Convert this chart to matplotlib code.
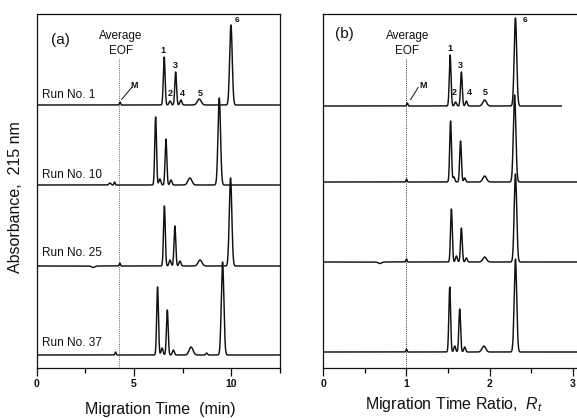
import numpy as np
from matplotlib import pyplot as plt

plt.rcParams['font.family'] = ['Liberation Sans', 'DejaVu Sans']
plt.rcParams['mathtext.fontset'] = 'custom'
plt.rcParams['mathtext.it'] = 'Liberation Sans:italic'
plt.rcParams['mathtext.rm'] = 'Liberation Sans'

run_names = ['Run No. 1', 'Run No. 10', 'Run No. 25', 'Run No. 37']
peak_names = ['M', '1', '2', '3', '4', '5', '6']

# panel (a): migration time (min); baseline level and peak heights in pixel-like units
a_base = [263, 183, 102, 13]
a_pos = [[4.28, 6.55, 6.85, 7.14, 7.41, 8.35, 9.98],
         [4.00, 6.11, 6.33, 6.64, 6.90, 7.87, 9.38],
         [4.27, 6.56, 6.85, 7.10, 7.36, 8.39, 9.96],
         [4.05, 6.21, 6.44, 6.71, 7.02, 7.93, 9.55]]
a_height = [[3, 48, 4, 33, 5, 6, 80],
            [3, 68, 6, 46, 5, 7, 87],
            [3, 60, 6, 40, 5, 6, 88],
            [3, 68, 7, 45, 5, 8, 93]]
a_sigma = [0.03, 0.045, 0.05, 0.045, 0.05, 0.10, 0.065]
a_extra = [[], [(3.76, 2, 0.05)], [(2.9, -1.5, 0.08)], [(8.73, 2, 0.04)]]
a_end = [12.5, 12.5, 12.5, 12.5]
a_eof = 4.22

# panel (b): migration time ratio
b_base = [262, 186, 106, 16]
b_pos = [[1.01, 1.525, 1.59, 1.66, 1.72, 1.94, 2.31],
         [1.00, 1.53, 1.57, 1.65, 1.70, 1.94, 2.30],
         [1.00, 1.54, 1.60, 1.66, 1.72, 1.94, 2.31],
         [1.00, 1.52, 1.58, 1.64, 1.70, 1.93, 2.31]]
b_height = [[3, 51, 4, 34, 5, 6, 88],
            [3, 61, 5, 41, 4, 6, 87],
            [3, 53, 6, 34, 4, 5, 88],
            [3, 65, 6, 43, 5, 6, 93]]
b_sigma = [0.007, 0.0105, 0.011, 0.0105, 0.011, 0.022, 0.015]
b_extra = [[], [], [(0.68, -1.5, 0.02)], []]
b_end = [2.86, 3.05, 3.05, 3.05]
b_eof = 1.0

# peak labels of the top run: (text, x, baseline y)
a_labels = [('1', 6.50, 315), ('2', 6.85, 272), ('3', 7.10, 300),
            ('4', 7.50, 272), ('5', 8.40, 272)]
b_labels = [('1', 1.52, 317), ('2', 1.58, 273), ('3', 1.65, 300),
            ('4', 1.75, 273), ('5', 1.95, 273)]

ink = '#111111'


def trace(x, base, pos, height, sigma, extra):
    y = np.full_like(x, float(base))
    for p, h, s in zip(pos, height, sigma):
        y += h * np.exp(-0.5 * ((x - p) / s) ** 2)
    for p, h, s in extra:
        y += h * np.exp(-0.5 * ((x - p) / s) ** 2)
    return y


def build_panel(ax, xmax, base, pos, height, sigma, extra, end, eof, labels,
                tag, m_xy, six_xy, avg_x, major, minor, right_spine, eof_color):
    ax.set_xlim(0, xmax)
    ax.set_ylim(0, 354)
    ax.axvline(eof, ymin=0, ymax=310 / 354, color=eof_color, lw=0.7, ls=(0, (1, 1.2)))
    for i in range(len(base)):
        x = np.linspace(0, end[i], 5000)
        ax.plot(x, trace(x, base[i], pos[i], height[i], sigma, extra[i]), color=ink, lw=1.05)
    for txt, lx, ly in labels:
        ax.text(lx, ly, txt, ha='center', va='baseline', fontsize=6.5, fontweight='bold', color=ink)
    ax.text(six_xy[0], six_xy[1], '6', ha='center', va='baseline', fontsize=6, fontweight='bold', color=ink)
    ax.text(m_xy[2], 280, 'M', ha='left', va='baseline', fontsize=6.5, fontweight='bold', color=ink)
    ax.plot([m_xy[0], m_xy[1]], [268.5, 280.5], color=ink, lw=0.7)
    ax.text(avg_x, 329, 'Average', ha='center', va='baseline', fontsize=8.5, color=ink)
    ax.text(avg_x, 314, 'EOF', ha='center', va='baseline', fontsize=8.5, color=ink)
    ax.text(tag[1], tag[2], tag[0], ha='left', va='baseline', fontsize=11, color=ink)

    ax.set_yticks([])
    ax.set_xticks(major)
    ax.set_xticks(minor, minor=True)
    ax.tick_params(axis='x', which='major', direction='out', length=5.5, width=0.9, pad=2.5,
                   labelsize=7.5, colors=ink)
    ax.tick_params(axis='x', which='minor', direction='out', length=3.5, width=0.9)
    for lab in ax.get_xticklabels():
        lab.set_fontweight('bold')
    for name, sp in ax.spines.items():
        sp.set_linewidth(0.9)
        sp.set_color(ink)
    ax.spines['right'].set_visible(right_spine)


fig = plt.figure(figsize=(5.77, 4.18), dpi=100)
ax_a = fig.add_axes([36.7 / 577, 50 / 418, 243.3 / 577, 354 / 418])
ax_b = fig.add_axes([323.3 / 577, 50 / 418, 253.7 / 577, 354 / 418])

build_panel(ax_a, 12.5, a_base, a_pos, a_height, a_sigma, a_extra, a_end, a_eof, a_labels,
            ('(a)', 0.72, 324), (4.36, 4.88, 5.05 - 0.25), (10.27, 345.5), 4.33,
            [0, 5, 10], [2.5, 7.5, 12.5], True, '#666666')
build_panel(ax_b, 3.05, b_base, b_pos, b_height, b_sigma, b_extra, b_end, b_eof, b_labels,
            ('(b)', 0.14, 330), (1.05, 1.14, 1.15), (2.42, 346), 1.01,
            [0, 1, 2, 3], [0.5, 1.5, 2.5], False, '#333333')

# run labels on panel (a)
run_y = [270, 190, 112, 22]
for name, y in zip(run_names, run_y):
    ax_a.text(0.27, y, name, ha='left', va='baseline', fontsize=8.5, color=ink)

fig.text(15.5 / 577, 1 - 197 / 418, 'Absorbance,  215 nm', rotation=90, ha='center', va='center',
         fontsize=11.5, color=ink)
fig.text(160 / 577, 1 - 414 / 418, 'Migration Time  (min)', ha='center', va='baseline',
         fontsize=11.5, color=ink)
fig.text(454 / 577, 1 - 409 / 418, r'Migration Time Ratio,  $R_t$', ha='center', va='baseline',
         fontsize=11.5, color=ink)

fig.savefig('out.png', dpi=100)
